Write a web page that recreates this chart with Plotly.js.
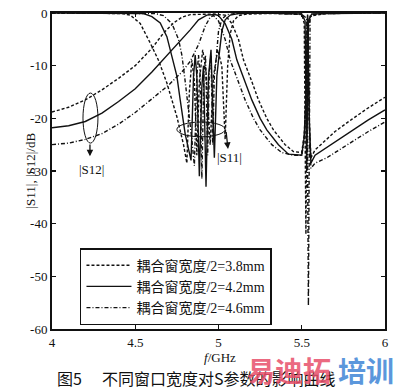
<!DOCTYPE html>
<html>
<head>
<meta charset="utf-8">
<script src="https://cdn.plot.ly/plotly-3.0.1.min.js"></script>
<style>html,body{margin:0;padding:0;background:#fff;}#chart{width:400px;height:392px;}</style>
</head>
<body>
<div id="chart"></div>
<script>
// ---- data ----
var seriesNames = ['耦合窗宽度/2=3.8mm', '耦合窗宽度/2=4.2mm', '耦合窗宽度/2=4.6mm'];

// |S12| curves
var s12F_38 = [4.0,4.1,4.2,4.3,4.4,4.5,4.6,4.67,4.73,4.78,4.83,4.9,4.97,5.04,5.08,5.12,5.15,5.2,5.24,5.29,5.33,5.4,5.45,5.5,5.515,5.525,5.535,5.545,5.555,5.58,5.65,5.7,5.8,5.9,6.0];
var s12V_38 = [-18.8,-17.9,-16.5,-14.6,-12.4,-10,-6.7,-3.8,-1.9,-0.8,-0.3,-0.2,-0.2,-0.4,-2,-5,-8.9,-13,-16.5,-20,-22.2,-25,-26.3,-26.5,-23,-15,-0.5,-20,-27.5,-26,-24,-22.5,-20.2,-18,-16];

var s12F_42 = [4.0,4.1,4.2,4.3,4.4,4.5,4.6,4.7,4.78,4.83,4.88,4.93,4.98,5.0,5.04,5.08,5.11,5.16,5.2,5.25,5.29,5.36,5.42,5.5,5.515,5.525,5.535,5.545,5.555,5.58,5.65,5.7,5.8,5.9,6.0];
var s12V_42 = [-21.8,-21.4,-20.6,-19,-16.8,-14.4,-11.2,-7.8,-5,-3.2,-1.3,-0.4,-0.3,-0.5,-2,-5,-8.9,-13,-16.5,-20,-22.2,-25,-26.8,-27,-23.5,-16,-0.3,-20,-28.5,-27,-25.5,-24.5,-22.3,-20.3,-18.4];

var s12F_46 = [4.0,4.1,4.2,4.3,4.4,4.5,4.6,4.7,4.78,4.83,4.88,4.92,4.95,4.97,5.0,5.04,5.07,5.12,5.16,5.21,5.25,5.32,5.38,5.45,5.5,5.515,5.525,5.535,5.545,5.555,5.58,5.65,5.7,5.8,5.9,6.0];
var s12V_46 = [-25,-24.7,-24,-22.9,-21.1,-18.9,-16.3,-13.7,-11.2,-9.2,-6,-2.5,-0.8,-0.5,-1.5,-5,-8.9,-13,-16.5,-20,-22.2,-25,-26.5,-27,-27,-24,-17,-1,-21,-29.5,-28.5,-27.5,-26.5,-24.5,-22.5,-20.7];

// |S11| curves
var s11F_38 = [4.0,4.3,4.42,4.47,4.53,4.59,4.64,4.69,4.75,4.79,4.81,4.825,4.84,4.855,4.87,4.885,4.905,4.925,4.95,4.97,4.995,5.02,5.04,5.055,5.07,5.09,5.12,5.17,5.3,5.5,5.515,5.525,5.535,5.55,5.65,6.0];
var s11V_38 = [0,0,-0.1,-0.4,-2,-5.7,-9,-13.3,-19.7,-25,-28.5,-15,-9,-13,-27,-13,-7,-11,-25,-12,-7,-10,-24,-10,-4,-1.5,-0.5,-0.2,-0.1,-0.2,-2,-42,-4,-0.6,-0.1,0];

var s11F_42 = [4.0,4.4,4.55,4.6,4.65,4.69,4.72,4.75,4.77,4.8,4.835,4.85,4.86,4.87,4.885,4.9,4.91,4.925,4.94,4.955,4.975,4.99,5.0,5.02,5.04,5.07,5.12,5.3,5.5,5.52,5.53,5.54,5.56,5.65,6.0];
var s11V_42 = [0,0,-0.1,-0.7,-1.9,-4.5,-8,-12,-16.5,-23,-28,-12,-8,-12,-31,-14,-10,-33,-12,-7,-27.5,-12,-9,-3.5,-1.3,-0.4,-0.1,0,-0.2,-1.5,-30,-1.5,-0.2,-0.1,0];

var s11F_46 = [4.0,4.45,4.62,4.67,4.72,4.76,4.78,4.8,4.82,4.84,4.855,4.87,4.88,4.89,4.9,4.912,4.922,4.935,4.945,4.955,4.965,4.975,4.985,5.0,5.02,5.05,5.1,5.3,5.5,5.53,5.54,5.55,5.565,5.65,6.0];
var s11V_46 = [0,0,-0.1,-0.5,-2,-5,-8,-13,-18,-24,-29,-12,-8,-12,-31.5,-12,-8,-27,-11,-8,-25,-12,-9,-3.5,-1.2,-0.3,-0.1,0,-0.3,-1,-55.6,-1,-0.3,-0.1,0];

var xTickVals = [4, 4.5, 5, 5.5, 6];
var xTickText = ['4', '4.5', '5', '5.5', '6'];
var yTickVals = [0, -10, -20, -30, -40, -50, -60];
var yTickText = ['0', '-10', '-20', '-30', '-40', '-50', '-60'];

// ---- styling ----
var dashes = ['3px,2px', 'solid', '4px,2px,1px,2px'];
var serif = 'Liberation Serif, Times New Roman, serif';
var cjk = 'Noto Sans CJK SC, sans-serif';

function tr(x, y, i, legend) {
  return {
    x: x, y: y, type: 'scatter', mode: 'lines',
    name: seriesNames[i], showlegend: legend, legendrank: i + 1,
    line: {color: '#111', width: 1.4, dash: dashes[i]},
    hoverinfo: 'skip'
  };
}

var data = [
  tr(s12F_38, s12V_38, 0, true),
  tr(s12F_42, s12V_42, 1, true),
  tr(s12F_46, s12V_46, 2, true),
  tr(s11F_38, s11V_38, 0, false),
  tr(s11F_42, s11V_42, 1, false),
  tr(s11F_46, s11V_46, 2, false)
];

var axisCommon = {
  showline: true, linewidth: 2, linecolor: '#111', mirror: 'ticks',
  ticks: 'inside', ticklen: 4, tickwidth: 1.2, tickcolor: '#111',
  showgrid: false, zeroline: false,
  tickfont: {family: serif, size: 13, color: '#111'}
};

var layout = {
  width: 400, height: 392,
  margin: {l: 52, r: 15, t: 13, b: 63, pad: 0},
  paper_bgcolor: '#fff', plot_bgcolor: '#fff',
  xaxis: Object.assign({}, axisCommon, {range: [4, 6], tickvals: xTickVals, ticktext: xTickText}),
  yaxis: Object.assign({}, axisCommon, {range: [-60, 0], tickvals: yTickVals, ticktext: yTickText}),
  showlegend: true,
  legend: {
    x: 0.084, y: 0.256, xanchor: 'left', yanchor: 'top',
    bgcolor: '#fff', bordercolor: '#111', borderwidth: 1.5,
    font: {family: serif + ', ' + cjk, size: 14, color: '#111'},
    itemwidth: 45, traceorder: 'normal'
  },
  shapes: [
    {type: 'circle', xref: 'x', yref: 'y', x0: 4.186, x1: 4.276, y0: -24.7, y1: -15.2, line: {color: '#111', width: 1}},
    {type: 'circle', xref: 'x', yref: 'y', x0: 4.75, x1: 5.04, y0: -23.5, y1: -20.7, line: {color: '#111', width: 1}}
  ],
  annotations: [
    {xref: 'x', yref: 'y', axref: 'x', ayref: 'y', x: 4.228, y: -27.2, ax: 4.228, ay: -24.7, text: '', showarrow: true, arrowhead: 2, arrowsize: 1, arrowwidth: 1.3, arrowcolor: '#111'},
    {xref: 'x', yref: 'y', axref: 'x', ayref: 'y', x: 5.057, y: -25.8, ax: 5.045, ay: -22.3, text: '', showarrow: true, arrowhead: 2, arrowsize: 1, arrowwidth: 1.3, arrowcolor: '#111'},
    {xref: 'x', yref: 'y', x: 4.24, y: -29.8, text: '|S12|', showarrow: false, font: {family: serif, size: 13, color: '#111'}},
    {xref: 'x', yref: 'y', x: 5.065, y: -27.5, text: '|S11|', showarrow: false, font: {family: serif, size: 13, color: '#111'}},
    {xref: 'paper', yref: 'paper', x: -0.096, y: 0.5, text: '|S11|, |S12|/dB', textangle: -90, showarrow: false, font: {family: serif, size: 13, color: '#111'}},
    {xref: 'paper', yref: 'paper', x: 0.505, y: -0.09, yanchor: 'middle', text: '<i>f</i>/GHz', showarrow: false, borderpad: 0, font: {family: serif, size: 13, color: '#111'}},
    {xref: 'paper', yref: 'paper', x: 0.009, y: -0.155, xanchor: 'left', yanchor: 'middle', text: '图5', showarrow: false, font: {family: cjk, size: 16, color: '#111'}},
    {xref: 'paper', yref: 'paper', x: 0.144, y: -0.155, xanchor: 'left', yanchor: 'middle', text: '不同窗口宽度对S参数的影响曲线', showarrow: false, font: {family: cjk, size: 16, color: '#111'}},
    {xref: 'paper', yref: 'paper', x: 0.583, y: -0.13, xanchor: 'left', yanchor: 'middle', text: '<b>易迪拓</b>', showarrow: false, borderpad: 0, opacity: 0.85, font: {family: cjk, size: 28, color: '#e8506a'}},
    {xref: 'paper', yref: 'paper', x: 1.03, y: -0.13, xanchor: 'right', yanchor: 'middle', text: '<b>培训</b>', showarrow: false, borderpad: 0, opacity: 0.85, font: {family: cjk, size: 28, color: '#3f86d6'}}
  ]
};

Plotly.newPlot('chart', data, layout, {staticPlot: true, displayModeBar: false});
</script>
</body>
</html>
